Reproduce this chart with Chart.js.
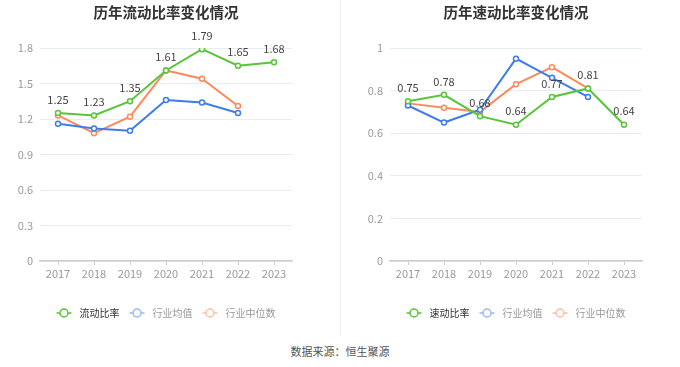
<!DOCTYPE html>
<html>
<head>
<meta charset="utf-8">
<script src="https://cdn.jsdelivr.net/npm/chart.js@4/dist/chart.umd.min.js"></script>
<style>
  html, body { margin: 0; padding: 0; background: #fff; }
  body { width: 680px; height: 367px; position: relative; overflow: hidden;
         font-family: "Noto Sans CJK SC", "Noto Sans", sans-serif; }
  .box { position: absolute; top: 0; width: 340px; height: 336px; }
  #left { left: 0; }
  #right { left: 340px; }
  .sep { position: absolute; left: 340px; top: 0; width: 1px; height: 336px; background: #eef0f4; }
  .src { position: absolute; left: 0; width: 680px; top: 343px; text-align: center;
         font-size: 11px; color: #555; }
</style>
</head>
<body>
<div class="box" id="left"><canvas id="c1" width="340" height="336"></canvas></div>
<div class="box" id="right"><canvas id="c2" width="340" height="336"></canvas></div>
<div class="sep"></div>
<div class="src">数据来源：恒生聚源</div>
<script>
const years = ['2017', '2018', '2019', '2020', '2021', '2022', '2023']

const currentRatio = [1.25, 1.23, 1.35, 1.61, 1.79, 1.65, 1.68]
const currentIndustryAvg = [1.16, 1.12, 1.10, 1.36, 1.34, 1.25, null]
const currentIndustryMedian = [1.23, 1.08, 1.22, 1.61, 1.54, 1.31, null]

const quickRatio = [0.75, 0.78, 0.68, 0.64, 0.77, 0.81, 0.64]
const quickIndustryAvg = [0.73, 0.65, 0.71, 0.95, 0.86, 0.77, null]
const quickIndustryMedian = [0.74, 0.72, 0.70, 0.83, 0.91, 0.81, null]

const GREEN = '#58c43a'
const BLUE = '#3e7ce8'
const ORANGE = '#fb8b5e'
const FONT = '"Noto Sans CJK SC", "Noto Sans", sans-serif'

// title, value labels and legend, all centred on the plot area
const decorations = {
  id: 'decorations',
  afterDatasetsDraw(chart, args, opts) {
    const ctx = chart.ctx
    const area = chart.chartArea
    const cx = (area.left + area.right) / 2
    ctx.save()

    // title
    ctx.font = 'bold 14.5px ' + FONT
    ctx.fillStyle = '#333'
    ctx.textAlign = 'center'
    ctx.textBaseline = 'middle'
    ctx.fillText(opts.title, cx, 12)

    // value labels on the main series
    const meta = chart.getDatasetMeta(0)
    const data = chart.data.datasets[0].data
    ctx.font = '11px ' + FONT
    ctx.fillStyle = '#444'
    ctx.textBaseline = 'bottom'
    meta.data.forEach((pt, i) => {
      if (data[i] == null) return
      ctx.fillText(data[i].toFixed(2), pt.x, pt.y - 8)
    })

    // legend
    ctx.font = '10px ' + FONT
    ctx.textAlign = 'left'
    ctx.textBaseline = 'middle'
    const markW = 15, gapText = 8, gapItem = 10
    const widths = opts.items.map(it => markW + gapText + ctx.measureText(it.text).width)
    const total = widths.reduce((a, b) => a + b, 0) + gapItem * (widths.length - 1)
    let x = cx - total / 2
    const y = 313
    opts.items.forEach((it, i) => {
      ctx.strokeStyle = it.color
      ctx.lineWidth = 1.5
      ctx.beginPath(); ctx.moveTo(x, y); ctx.lineTo(x + markW, y); ctx.stroke()
      ctx.fillStyle = '#fff'
      ctx.beginPath(); ctx.arc(x + markW / 2, y, 4, 0, Math.PI * 2); ctx.fill(); ctx.stroke()
      ctx.fillStyle = it.textColor
      ctx.fillText(it.text, x + markW + gapText, y)
      x += widths[i] + gapItem
    })
    ctx.restore()
  }
}

function makeChart(id, title, mainName, series, max, step, yWidth, padRight) {
  const colors = [GREEN, BLUE, ORANGE]
  const legendColors = [GREEN, '#9bb9f2', '#fdbfa5']
  const textColors = ['#333', '#999', '#999']
  const names = [mainName, '行业均值', '行业中位数']

  return new Chart(document.getElementById(id), {
    type: 'line',
    data: {
      labels: years,
      datasets: series.map((d, i) => ({
        label: names[i],
        data: d,
        borderColor: colors[i],
        backgroundColor: '#fff',
        borderWidth: 2,
        pointRadius: 2.5,
        pointBorderWidth: 1.5,
        pointBackgroundColor: '#fff',
        pointBorderColor: colors[i],
        tension: 0,
        spanGaps: false
      }))
    },
    options: {
      responsive: false,
      animation: false,
      layout: { padding: { left: 0, right: padRight, top: 48, bottom: 0 } },
      plugins: {
        title: { display: false },
        legend: { display: false },
        tooltip: { enabled: false },
        decorations: {
          title: title,
          items: names.map((n, i) => ({ text: n, color: legendColors[i], textColor: textColors[i] }))
        }
      },
      scales: {
        x: {
          offset: true,
          afterFit: s => { s.height = 75 },
          grid: { offset: false, drawOnChartArea: false, drawTicks: true, tickLength: 4, color: '#ccc' },
          border: { color: '#ccc', width: 1.5 },
          ticks: { color: '#999', font: { size: 11, family: FONT }, padding: 2 }
        },
        y: {
          min: 0,
          max: max,
          afterFit: s => { s.width = yWidth },
          grid: { color: '#e8ecf4', drawTicks: false },
          border: { display: false },
          ticks: {
            stepSize: step,
            color: '#999',
            padding: 7,
            font: { size: 11, family: FONT },
            callback: v => String(Math.round(v * 10) / 10)
          }
        }
      }
    },
    plugins: [decorations]
  })
}

makeChart('c1', '历年流动比率变化情况', '流动比率',
  [currentRatio, currentIndustryAvg, currentIndustryMedian], 1.8, 0.3, 40, 48)
makeChart('c2', '历年速动比率变化情况', '速动比率',
  [quickRatio, quickIndustryAvg, quickIndustryMedian], 1, 0.2, 50, 38)
</script>
</body>
</html>
